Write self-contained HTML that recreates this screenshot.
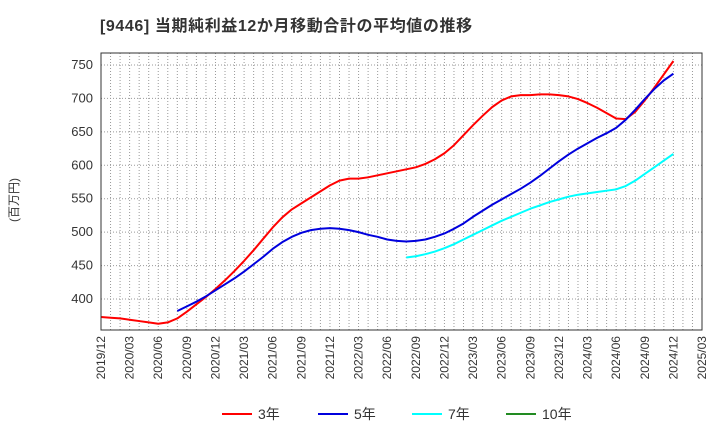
<!DOCTYPE html>
<html><head><meta charset="utf-8"><style>
body{margin:0;background:#fff;font-family:"Liberation Sans","Noto Sans CJK JP",sans-serif}
svg text{font-family:"Liberation Sans","Noto Sans CJK JP",sans-serif}
</style></head><body>
<svg id="c" width="720" height="440" xmlns="http://www.w3.org/2000/svg">
<text x="100" y="31" font-size="16" font-weight="bold" fill="#333" letter-spacing="0.6">[9446]  当期純利益12か月移動合計の平均値の推移</text>
<text transform="translate(18,200) rotate(-90)" font-size="12" fill="#333" text-anchor="middle">(百万円)</text>
<g id="grid"></g><g id="series"></g><g id="axes"></g>
<g font-size="14" fill="#333">
<line x1="222" y1="414" x2="252" y2="414" stroke="#ff0000" stroke-width="2"/><text x="258" y="419">3年</text>
<line x1="318" y1="414" x2="348" y2="414" stroke="#0000dd" stroke-width="2"/><text x="354" y="419">5年</text>
<line x1="412" y1="414" x2="442" y2="414" stroke="#00ffff" stroke-width="2"/><text x="448" y="419">7年</text>
<line x1="506" y1="414" x2="536" y2="414" stroke="#228b22" stroke-width="2"/><text x="542" y="419">10年</text>
</g>
</svg>
<script>
const yTicks=[400,450,500,550,600,650,700,750];
const xLabels=["2019/12","2020/03","2020/06","2020/09","2020/12","2021/03","2021/06","2021/09","2021/12","2022/03","2022/06","2022/09","2022/12","2023/03","2023/06","2023/09","2023/12","2024/03","2024/06","2024/09","2024/12","2025/03"];
const red=[373,372,371,369,367,365,363,365,371,381,392,403,415,428,442,457,473,490,507,522,534,543,552,561,570,577,580,580,582,585,588,591,594,597,602,609,618,630,645,660,674,687,697,703,705,705,706,706,705,703,699,693,686,678,670,669,680,697,716,736,756];
const blueStart=8;
const blue=[382,389,396,404,413,422,431,441,452,463,475,485,493,499,503,505,506,505,503,500,496,493,489,487,486,487,489,493,498,505,513,523,532,541,549,557,565,574,584,595,606,616,625,633,641,648,656,668,683,699,714,727,737];
const cyanStart=32;
const cyan=[462,464,467,471,476,482,489,496,503,510,517,523,529,535,540,545,549,553,556,558,560,562,564,569,577,587,597,607,617];
const X0=101,X1=702,Y0=53,Y1=330,NM=63;
const xs=i=>X0+(X1-X0)*i/NM;
const ys=v=>299-(v-400)*(234/350);
const NS="http://www.w3.org/2000/svg";
function mk(t,a,p){const e=document.createElementNS(NS,t);for(const k in a)e.setAttribute(k,a[k]);p.appendChild(e);return e;}
const g=document.getElementById('grid'),ax=document.getElementById('axes'),sg=document.getElementById('series');
for(let i=1;i<NM;i++){const l=mk('line',{x1:xs(i),x2:xs(i),y1:Y0,y2:Y1,stroke:'#999','stroke-dasharray':'1,2','stroke-width':1},g);

}
yTicks.forEach(v=>{const l=mk('line',{x1:X0,x2:X1,y1:ys(v),y2:ys(v),stroke:'#999','stroke-dasharray':'1,2'},g);


const t=mk('text',{x:X0-8,y:ys(v)+4,'font-size':13,'text-anchor':'end',fill:'#333'},ax);t.textContent=v;

});
xLabels.forEach((s,i)=>{const x=xs(i*3);const t=mk('text',{transform:`translate(${x+4},${Y1+6}) rotate(-90)`,'font-size':12,'text-anchor':'end',fill:'#333'},ax);t.textContent=s;

});
const r=mk('rect',{x:X0,y:Y0,width:X1-X0,height:Y1-Y0,fill:'none',stroke:'#333'},ax);


function line(arr,start,col,name){const p=mk('polyline',{points:arr.map((v,i)=>xs(start+i)+','+ys(v)).join(' '),fill:'none',stroke:col,'stroke-width':2,'stroke-linejoin':'round'},sg);

}
line(red,0,'#ff0000','series-3y');
line(blue,blueStart,'#0000dd','series-5y');
line(cyan,cyanStart,'#00ffff','series-7y');
</script>
</body></html>
